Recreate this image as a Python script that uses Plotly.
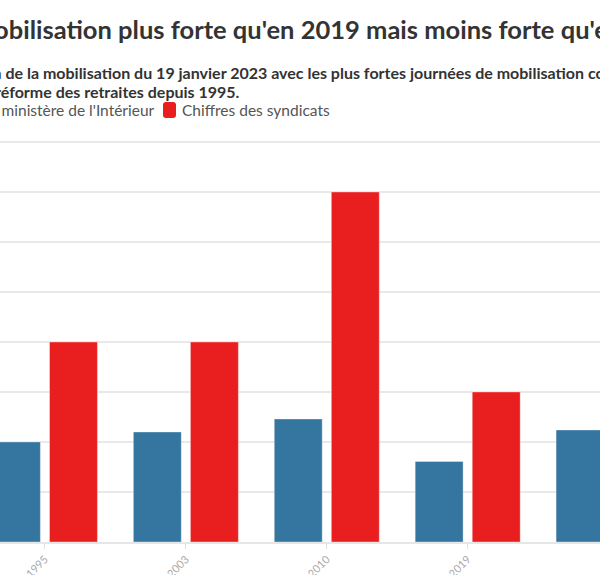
import plotly.graph_objects as go

years = ["1995", "2003", "2010", "2019", "2023"]
interieur = [1000000, 1100000, 1230000, 806000, 1120000]
syndicats = [2000000, 2000000, 3500000, 1500000, 2000000]

title_text = "Une mobilisation plus forte qu'en 2019 mais moins forte qu'en 2010"
sub_line1 = "Comparaison de la mobilisation du 19 janvier 2023 avec les plus fortes journées de mobilisation contre une"
sub_line2 = "réforme des retraites depuis 1995."
legend_names = ["Chiffres du ministère de l'Intérieur", "Chiffres des syndicats"]

BLUE = "#3576a0"
RED = "#e91f1f"
FONT = "Source Sans Pro, Lato, sans-serif"

W, H = 600, 575
T, B = 140, 33
PH = H - T - B


def py(y):
    return (H - B - y) / PH


def px(x):
    return x / W


def rounded_rect(x0, y0, x1, y1, r):
    def P(x, y):
        return f"{px(x)},{py(y)}"
    return (f"M {P(x0 + r, y0)} L {P(x1 - r, y0)} Q {P(x1, y0)} {P(x1, y0 + r)} "
            f"L {P(x1, y1 - r)} Q {P(x1, y1)} {P(x1 - r, y1)} L {P(x0 + r, y1)} "
            f"Q {P(x0, y1)} {P(x0, y1 - r)} L {P(x0, y0 + r)} Q {P(x0, y0)} {P(x0 + r, y0)} Z")


fig = go.Figure()
fig.add_trace(go.Bar(
    x=years, y=interieur, name=legend_names[0],
    marker=dict(color=BLUE, line=dict(color="rgba(255,255,255,0.35)", width=1)),
))
fig.add_trace(go.Bar(
    x=years, y=syndicats, name=legend_names[1],
    marker=dict(color=RED, line=dict(color="rgba(255,255,255,0.35)", width=1)),
))

shapes = [
    dict(type="path", xref="paper", yref="paper", path=rounded_rect(-105, 102, -92, 118, 3),
         fillcolor=BLUE, line=dict(width=0)),
    dict(type="path", xref="paper", yref="paper", path=rounded_rect(163, 102, 176, 118, 3),
         fillcolor=RED, line=dict(width=0)),
]

fig.update_layout(
    width=W, height=H,
    margin=dict(l=0, r=0, t=T, b=B, autoexpand=False),
    paper_bgcolor="white", plot_bgcolor="white",
    barmode="group", bargap=0.19, bargroupgap=0.16,
    font=dict(family=FONT, color="#333333"),
    showlegend=False,
    shapes=shapes,
    xaxis=dict(type="category", range=[-0.319, 3.939], showgrid=False,
               showline=True, linecolor="#e6e6e6", linewidth=1.5,
               ticks="outside", ticklen=5, tickcolor="#e0e0e0", tickwidth=1,
               tickangle=-45, tickfont=dict(size=11, color="#aaaaaa", family=FONT),
               automargin=False),
    yaxis=dict(range=[0, 4020000], dtick=500000, showgrid=True, gridcolor="#e9e9e9",
               gridwidth=1.5, zeroline=False, showticklabels=False, automargin=False),
    annotations=[
        dict(text="<b>" + title_text + "</b>", xref="paper", yref="paper",
             x=px(-82), y=py(29), xanchor="left", yanchor="middle", showarrow=False,
             font=dict(size=25.5, color="#333333", family=FONT)),
        dict(text="<b>" + sub_line1 + "</b>", xref="paper", yref="paper",
             x=px(-94), y=py(72), xanchor="left", yanchor="middle", showarrow=False,
             font=dict(size=16, color="#333333", family=FONT)),
        dict(text="<b>" + sub_line2 + "</b>", xref="paper", yref="paper",
             x=px(-7), y=py(91), xanchor="left", yanchor="middle", showarrow=False,
             font=dict(size=16, color="#333333", family=FONT)),
        dict(text=legend_names[0], xref="paper", yref="paper",
             x=px(157), y=py(110), xanchor="right", yanchor="middle", showarrow=False,
             font=dict(size=15.5, color="#555555", family=FONT)),
        dict(text=legend_names[1], xref="paper", yref="paper",
             x=px(180), y=py(110), xanchor="left", yanchor="middle", showarrow=False,
             font=dict(size=15.5, color="#555555", family=FONT)),
    ],
)

fig.write_html("out.html", config={"displayModeBar": False},
               post_script="document.body.style.margin='0';document.body.style.overflow='hidden';")
